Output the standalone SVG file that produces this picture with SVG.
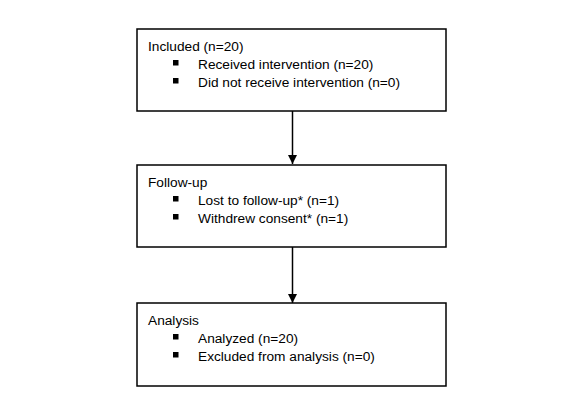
<svg xmlns="http://www.w3.org/2000/svg" width="584" height="413" viewBox="0 0 584 413">
<style>
.box{fill:#fff;stroke:#000;stroke-width:1.5}
.t{font-family:"Liberation Sans",Arial,sans-serif;font-size:13.7px;fill:#000}
.b{fill:#000}
.c{stroke:#000;stroke-width:1.5;fill:none}
</style>
<defs>
<marker id="ah" markerWidth="9" markerHeight="9" refX="9" refY="4.5" orient="auto" markerUnits="userSpaceOnUse">
<path d="M0,0 L9,4.5 L0,9 Z" fill="#000"/>
</marker>
</defs>
<rect width="584" height="413" fill="#fff"/>
<g id="connectors">
<line class="c" x1="292.5" y1="111" x2="292.5" y2="164" marker-end="url(#ah)"/>
<line class="c" x1="292.5" y1="247" x2="292.5" y2="303" marker-end="url(#ah)"/>
</g>
<g id="included">
<rect class="box" x="137" y="29" width="309" height="82"/>
<text class="t" x="148" y="51">Included (n=20)</text>
<rect class="b" x="173" y="60" width="5.5" height="5.5"/>
<text class="t" x="198" y="69">Received intervention (n=20)</text>
<rect class="b" x="173" y="78" width="5.5" height="5.5"/>
<text class="t" x="198" y="87">Did not receive intervention (n=0)</text>
</g>
<g id="followup">
<rect class="box" x="137" y="165" width="309" height="82"/>
<text class="t" x="148" y="187">Follow-up</text>
<rect class="b" x="173" y="196" width="5.5" height="5.5"/>
<text class="t" x="198" y="205">Lost to follow-up* (n=1)</text>
<rect class="b" x="173" y="214" width="5.5" height="5.5"/>
<text class="t" x="198" y="223">Withdrew consent* (n=1)</text>
</g>
<g id="analysis">
<rect class="box" x="137" y="303" width="309" height="83"/>
<text class="t" x="148" y="325">Analysis</text>
<rect class="b" x="173" y="334" width="5.5" height="5.5"/>
<text class="t" x="198" y="343">Analyzed (n=20)</text>
<rect class="b" x="173" y="352" width="5.5" height="5.5"/>
<text class="t" x="198" y="361">Excluded from analysis (n=0)</text>
</g>
</svg>
